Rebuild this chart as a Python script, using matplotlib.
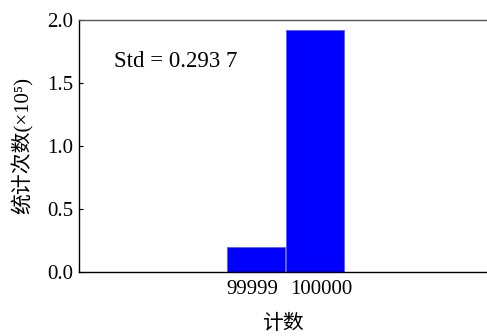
import matplotlib
matplotlib.use("Agg")
import matplotlib.pyplot as plt
from matplotlib.transforms import ScaledTranslation

counts = [99999, 100000]
freq = [0.20, 1.92]  # x10^5
tick_labels = ["99999", "100000"]
yticks = [0.0, 0.5, 1.0, 1.5, 2.0]

serif = ["Liberation Serif", "Noto Sans CJK SC", "DejaVu Sans"]
plt.rcParams["font.family"] = serif

fig = plt.figure(figsize=(4.87, 3.36), dpi=100)
ax = fig.add_axes([79/487, 64/336, 1 - 79/487, 252/336])

ax.bar(counts, freq, width=1.0, color="#0000ff", edgecolor="#5a5aff", linewidth=0.6, align="center")

ax.set_xlim(99996, 99996 + 408/59)
ax.set_ylim(0, 2.0)
ax.set_yticks(yticks)
ax.set_yticklabels([f"{v:.1f}" for v in yticks])
ax.set_xticks(counts)
ax.set_xticklabels(tick_labels)

ax.tick_params(axis="y", direction="in", length=3, width=0.8, labelsize=15, pad=4)
ax.tick_params(axis="x", length=0, labelsize=15, pad=6)

# spread the two x tick labels slightly apart as in the reference
offsets = [-4, 6]
for lab, dx in zip(ax.get_xticklabels(), offsets):
    lab.set_transform(lab.get_transform() + ScaledTranslation(dx / 100, 0, fig.dpi_scale_trans))

ax.spines["right"].set_visible(False)
for s in ["left", "top", "bottom"]:
    ax.spines[s].set_linewidth(1.0)
    ax.spines[s].set_color("black")
ax.spines["top"].set_color("#555555")

ax.text(0.086, 0.835, "Std = 0.293 7", transform=ax.transAxes, fontsize=16.5,
        va="center", ha="left", family=serif)

ax.set_ylabel("统计次数(×10⁵)", fontsize=15, family=serif, labelpad=10)
ax.set_xlabel("计数", fontsize=15, family=serif, labelpad=11)

fig.savefig("out.png", dpi=100)
